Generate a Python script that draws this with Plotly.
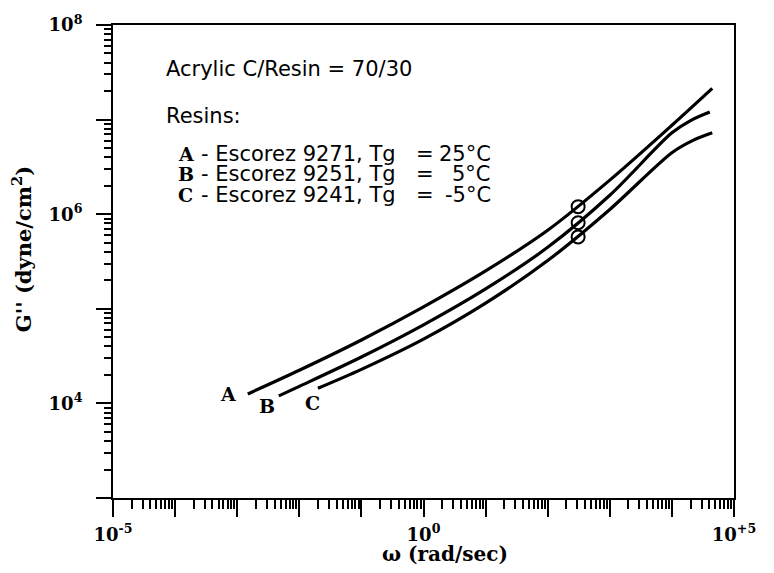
import plotly.graph_objects as go

# log10(omega, rad/sec) and log10(G'', dyne/cm^2)
logw_A = [-2.83, -2.0, -1.0, 0.0, 1.0, 2.0, 3.0, 4.0, 4.65]
logG_A = [4.10, 4.35, 4.67, 5.02, 5.40, 5.83, 6.36, 6.94, 7.33]
logw_B = [-2.33, -2.0, -1.0, 0.0, 1.0, 2.0, 3.0, 4.0, 4.30, 4.61]
logG_B = [4.08, 4.18, 4.49, 4.83, 5.21, 5.65, 6.20, 6.86, 6.99, 7.08]
logw_C = [-1.70, -1.0, 0.0, 1.0, 2.0, 3.0, 4.0, 4.34, 4.65]
logG_C = [4.16, 4.36, 4.68, 5.06, 5.51, 6.05, 6.65, 6.78, 6.86]
circle_logw = [2.49, 2.49, 2.49]
circle_logG = [6.08, 5.91, 5.76]

series_names = ["A", "B", "C"]
resin_names = ["Escorez 9271", "Escorez 9251", "Escorez 9241"]
resin_tg = ["25°C", "5°C", "-5°C"]

x_decades = list(range(-5, 6))
x_labels = {-5: "10<sup>-5</sup>", 0: "10<sup>0</sup>", 5: "10<sup>+5</sup>"}
y_decades = list(range(3, 9))
y_labels = {4: "10<sup>4</sup>", 6: "10<sup>6</sup>", 8: "10<sup>8</sup>"}

SERIF = "DejaVu Serif"
SANS = "DejaVu Sans"

fig = go.Figure()
for lw, lg in [(logw_A, logG_A), (logw_B, logG_B), (logw_C, logG_C)]:
    fig.add_trace(go.Scatter(
        x=[10 ** v for v in lw], y=[10 ** v for v in lg], mode="lines",
        line=dict(color="black", width=3.2, shape="spline", smoothing=0.9),
        showlegend=False, hoverinfo="skip"))
fig.add_trace(go.Scatter(
    x=[10 ** v for v in circle_logw], y=[10 ** v for v in circle_logG],
    mode="markers", marker=dict(symbol="circle-open", size=13, color="black",
                                line=dict(width=2, color="black")),
    showlegend=False, hoverinfo="skip"))

x_minor = [k * 10.0 ** d for d in range(-5, 5) for k in range(2, 10)]
y_minor = [k * 10.0 ** d for d in range(3, 8) for k in range(2, 10)]

fig.update_layout(
    width=774, height=573,
    margin=dict(l=113, r=40, t=17, b=75),
    plot_bgcolor="white", paper_bgcolor="white",
    xaxis=dict(
        type="log", range=[-5, 5], showgrid=False, zeroline=False,
        showline=True, linecolor="black", linewidth=2, mirror=True,
        ticks="outside", ticklen=17, tickwidth=2, tickcolor="black",
        tickmode="array", tickvals=[10.0 ** d for d in x_decades],
        ticktext=[x_labels.get(d, "") for d in x_decades],
        tickfont=dict(family=SERIF, size=18, color="black", weight="bold"),
        ticklabelstandoff=2,
        minor=dict(tickmode="array", tickvals=x_minor, ticks="outside",
                   ticklen=9, tickwidth=1.6, tickcolor="black", showgrid=False),
    ),
    yaxis=dict(
        type="log", range=[3, 8], showgrid=False, zeroline=False,
        showline=True, linecolor="black", linewidth=2, mirror=True,
        ticks="outside", ticklen=15, tickwidth=2, tickcolor="black",
        tickmode="array", tickvals=[10.0 ** d for d in y_decades],
        ticktext=[y_labels.get(d, "") for d in y_decades],
        tickfont=dict(family=SERIF, size=18, color="black", weight="bold"),
        ticklabelstandoff=10,
        minor=dict(tickmode="array", tickvals=y_minor, ticks="outside",
                   ticklen=7, tickwidth=1.6, tickcolor="black", showgrid=False),
    ),
)


def px(xp):
    return (xp - 113) / 621


def py(yp):
    return (498 - yp) / 481


ann = []
# axis titles
ann.append(dict(text="ω (rad/sec)", xref="paper", yref="paper", x=px(445), y=py(555),
                showarrow=False, xanchor="center", yanchor="middle",
                font=dict(family=SERIF, size=20, color="black", weight="bold")))
ann.append(dict(text="G'' (dyne/cm<sup>2</sup>)", xref="paper", yref="paper",
                x=px(22), y=py(245), textangle=-90, showarrow=False,
                xanchor="center", yanchor="middle",
                font=dict(family=SERIF, size=21, color="black", weight="bold")))

TXT = 21
ann.append(dict(text="Acrylic C/Resin = 70/30", xref="paper", yref="paper", x=px(164), y=py(62),
                showarrow=False, xanchor="left", yanchor="middle",
                font=dict(family=SANS, size=TXT, color="black")))
ann.append(dict(text="Resins:", xref="paper", yref="paper", x=px(164), y=py(110),
                showarrow=False, xanchor="left", yanchor="middle",
                font=dict(family=SANS, size=TXT, color="black")))
row_y = [148, 169, 190]
for name, resin, tg, yy in zip(series_names, resin_names, resin_tg, row_y):
    ann.append(dict(text=name, xref="paper", yref="paper", x=px(176), y=py(yy),
                    showarrow=False, xanchor="left", yanchor="middle",
                    font=dict(family=SERIF, size=19, color="black", weight="bold")))
    ann.append(dict(text="- " + resin + ", Tg", xref="paper", yref="paper", x=px(199), y=py(yy),
                    showarrow=False, xanchor="left", yanchor="middle",
                    font=dict(family=SANS, size=TXT, color="black")))
    ann.append(dict(text="=", xref="paper", yref="paper", x=px(425), y=py(yy),
                    showarrow=False, xanchor="center", yanchor="middle",
                    font=dict(family=SANS, size=TXT, color="black")))
    ann.append(dict(text=tg, xref="paper", yref="paper", x=px(493), y=py(yy),
                    showarrow=False, xanchor="right", yanchor="middle",
                    font=dict(family=SANS, size=TXT, color="black")))

# curve end letters (data coordinates, log10 values)
letter_pos = [(-3.15, 4.10), (-2.52, 3.97), (-1.78, 4.00)]
for name, (lx, ly) in zip(series_names, letter_pos):
    ann.append(dict(text=name, xref="x", yref="y", x=lx, y=ly, showarrow=False,
                    xanchor="center", yanchor="middle",
                    font=dict(family=SERIF, size=19, color="black", weight="bold")))

fig.update_layout(annotations=ann)
fig.write_html("out.html")
